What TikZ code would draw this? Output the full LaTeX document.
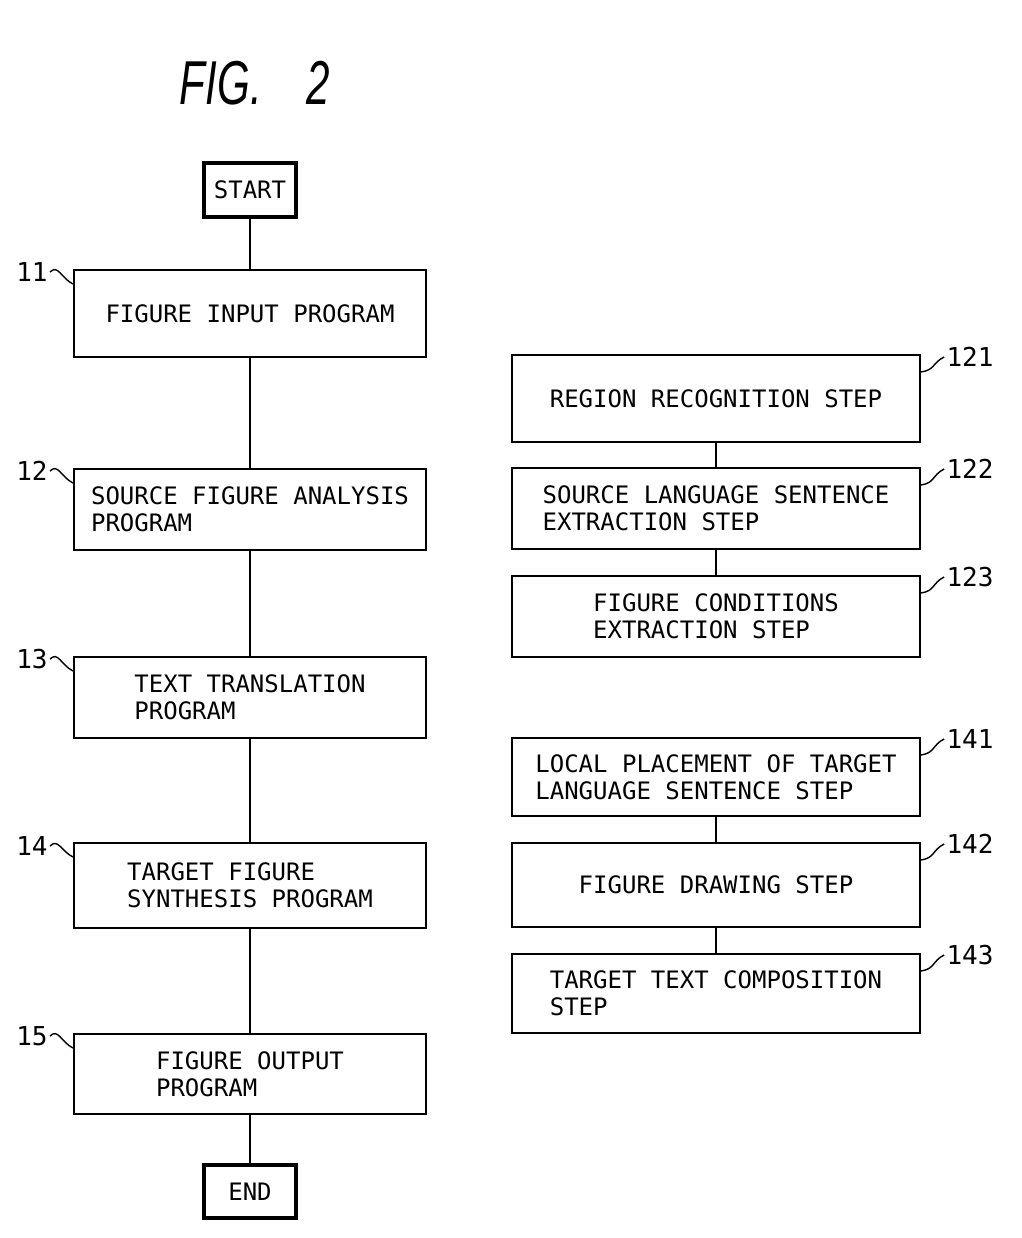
\documentclass[tikz,border=0pt]{standalone}
\usepackage{fontspec}
\setmonofont{DejaVu Sans Mono}
\newfontfamily\figfont{Liberation Sans}
\usetikzlibrary{positioning,calc}

\tikzset{
  stepbox/.style={draw, line width=1pt, align=left, inner sep=0pt,
    font=\ttfamily\fontsize{12}{13.5}\selectfont},
  termbox/.style={draw, line width=1.6pt, inner sep=0pt, minimum width=46pt,
    font=\ttfamily\fontsize{12}{13.5}\selectfont},
  reflabel/.style={inner sep=0pt, font=\ttfamily\fontsize{13}{13}\selectfont},
  squiggle/.style={line width=0.7pt},
  link/.style={line width=1pt}
}

\begin{document}
\begin{tikzpicture}[x=0.5pt, y=-0.5pt]
\useasboundingbox (0,0) rectangle (1022,1238);

% Title
\node[font=\figfont\itshape\fontsize{31}{31}\selectfont, xscale=0.68] (title) at (255,83) {FIG.\hspace{33pt}2};

% Main program column
\node[termbox, minimum height=27pt] (start) at (250,190) {START};
\node[stepbox, minimum width=176pt, minimum height=43.5pt] (b11) at (250,313.5) {FIGURE INPUT PROGRAM};
\node[stepbox, minimum width=176pt, minimum height=40.5pt] (b12) at (250,509.5) {SOURCE FIGURE ANALYSIS\\PROGRAM};
\node[stepbox, minimum width=176pt, minimum height=40.5pt] (b13) at (250,697.5) {TEXT TRANSLATION\\PROGRAM};
\node[stepbox, minimum width=176pt, minimum height=42.5pt] (b14) at (250,885.5) {TARGET FIGURE\\SYNTHESIS PROGRAM};
\node[stepbox, minimum width=176pt, minimum height=40pt] (b15) at (250,1074) {FIGURE OUTPUT\\PROGRAM};
\node[termbox, minimum height=26.5pt] (end) at (250,1191.5) {END};

% Analysis steps
\node[stepbox, minimum width=204pt, minimum height=43.5pt] (b121) at (716,398.5) {REGION RECOGNITION STEP};
\node[stepbox, minimum width=204pt, minimum height=40.5pt] (b122) at (716,508.5) {SOURCE LANGUAGE SENTENCE\\EXTRACTION STEP};
\node[stepbox, minimum width=204pt, minimum height=40.5pt] (b123) at (716,616.5) {FIGURE CONDITIONS\\EXTRACTION STEP};

% Synthesis steps
\node[stepbox, minimum width=204pt, minimum height=39pt] (b141) at (716,777) {LOCAL PLACEMENT OF TARGET\\LANGUAGE SENTENCE STEP};
\node[stepbox, minimum width=204pt, minimum height=42pt] (b142) at (716,885) {FIGURE DRAWING STEP};
\node[stepbox, minimum width=204pt, minimum height=39.5pt] (b143) at (716,993.5) {TARGET TEXT COMPOSITION\\STEP};

% Connectors
\draw[link] (start) -- (b11);
\draw[link] (b11) -- (b12);
\draw[link] (b12) -- (b13);
\draw[link] (b13) -- (b14);
\draw[link] (b14) -- (b15);
\draw[link] (b15) -- (end);
\draw[link] (b121) -- (b122);
\draw[link] (b122) -- (b123);
\draw[link] (b141) -- (b142);
\draw[link] (b142) -- (b143);

% Reference numerals, left
\node[reflabel] (l11) at (32,272) {11};
\node[reflabel] (l12) at (32,471) {12};
\node[reflabel] (l13) at (32,659) {13};
\node[reflabel] (l14) at (32,846) {14};
\node[reflabel] (l15) at (32,1036) {15};
\draw[squiggle] ([xshift=1pt]l11.east) .. controls +(8,-8) and +(-12,-6) .. ($(b11.north west)+(0,15)$);
\draw[squiggle] ([xshift=1pt]l12.east) .. controls +(8,-8) and +(-12,-6) .. ($(b12.north west)+(0,15)$);
\draw[squiggle] ([xshift=1pt]l13.east) .. controls +(8,-8) and +(-12,-6) .. ($(b13.north west)+(0,15)$);
\draw[squiggle] ([xshift=1pt]l14.east) .. controls +(8,-8) and +(-12,-6) .. ($(b14.north west)+(0,15)$);
\draw[squiggle] ([xshift=1pt]l15.east) .. controls +(8,-8) and +(-12,-6) .. ($(b15.north west)+(0,15)$);

% Reference numerals, right
\node[reflabel] (l121) at (970,357) {121};
\node[reflabel] (l122) at (970,469) {122};
\node[reflabel] (l123) at (970,577) {123};
\node[reflabel] (l141) at (970,739) {141};
\node[reflabel] (l142) at (970,844) {142};
\node[reflabel] (l143) at (970,955) {143};
\draw[squiggle] ($(b121.north east)+(0,18)$) .. controls +(14,-2) and +(-12,6) .. ([xshift=-1pt]l121.west);
\draw[squiggle] ($(b122.north east)+(0,18)$) .. controls +(14,-2) and +(-12,6) .. ([xshift=-1pt]l122.west);
\draw[squiggle] ($(b123.north east)+(0,18)$) .. controls +(14,-2) and +(-12,6) .. ([xshift=-1pt]l123.west);
\draw[squiggle] ($(b141.north east)+(0,18)$) .. controls +(14,-2) and +(-12,6) .. ([xshift=-1pt]l141.west);
\draw[squiggle] ($(b142.north east)+(0,18)$) .. controls +(14,-2) and +(-12,6) .. ([xshift=-1pt]l142.west);
\draw[squiggle] ($(b143.north east)+(0,18)$) .. controls +(14,-2) and +(-12,6) .. ([xshift=-1pt]l143.west);

\end{tikzpicture}
\end{document}
